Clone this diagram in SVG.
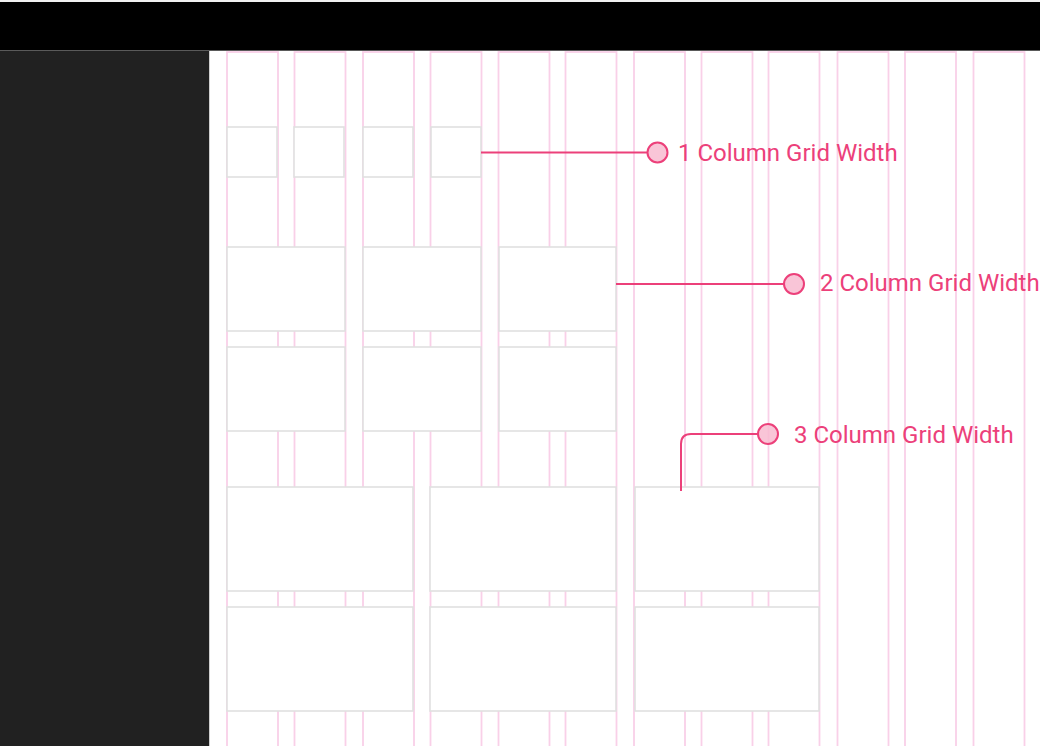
<svg xmlns="http://www.w3.org/2000/svg" width="1048" height="746" viewBox="0 0 1048 746">
<style>
.col{fill:none;stroke:#f9d0e8;stroke-width:1.8}
.box{fill:#ffffff;stroke:#e0e0e0;stroke-width:1.6}
.conn{fill:none;stroke:#ec407a;stroke-width:2}
.dot{fill:#f8bbd0;fill-opacity:0.85;stroke:#ec407a;stroke-width:2}
.lbl{font-family:Roboto,"Liberation Sans",sans-serif;font-size:24px;fill:#ec407a}
</style>
<rect x="0" y="0" width="1048" height="746" fill="#ffffff"/>
<rect x="0" y="0" width="1040" height="2" fill="#f0f0f0"/>
<rect x="0" y="2" width="1040" height="48" fill="#000000"/>
<rect x="0" y="50" width="1040" height="1" fill="#5a5a5a"/>
<rect x="0" y="51" width="209" height="695" fill="#212121"/>
<rect x="209" y="51" width="1" height="695" fill="#cfcfcf"/>
<g id="grid-columns">
<rect class="col" x="227" y="52" width="51" height="720"/>
<rect class="col" x="294.5" y="52" width="51" height="720"/>
<rect class="col" x="363" y="52" width="51" height="720"/>
<rect class="col" x="430.5" y="52" width="51" height="720"/>
<rect class="col" x="498.5" y="52" width="51" height="720"/>
<rect class="col" x="565.5" y="52" width="51" height="720"/>
<rect class="col" x="634" y="52" width="51" height="720"/>
<rect class="col" x="701.5" y="52" width="51" height="720"/>
<rect class="col" x="768.5" y="52" width="51" height="720"/>
<rect class="col" x="837.5" y="52" width="51" height="720"/>
<rect class="col" x="905" y="52" width="51" height="720"/>
<rect class="col" x="973.5" y="52" width="51" height="720"/>
</g>
<g id="box-1a"><rect class="box" x="227" y="127" width="50" height="50"/></g>
<g id="box-1b"><rect class="box" x="294" y="127" width="50" height="50"/></g>
<g id="box-1c"><rect class="box" x="363" y="127" width="50" height="50"/></g>
<g id="box-1d"><rect class="box" x="431" y="127" width="50" height="50"/></g>
<g id="box-2a"><rect class="box" x="227" y="247" width="118" height="84"/></g>
<g id="box-2b"><rect class="box" x="363" y="247" width="118" height="84"/></g>
<g id="box-2c"><rect class="box" x="499" y="247" width="117" height="84"/></g>
<g id="box-2d"><rect class="box" x="227" y="347" width="118" height="84"/></g>
<g id="box-2e"><rect class="box" x="363" y="347" width="118" height="84"/></g>
<g id="box-2f"><rect class="box" x="499" y="347" width="117" height="84"/></g>
<g id="box-3a"><rect class="box" x="227" y="487" width="186" height="104"/></g>
<g id="box-3b"><rect class="box" x="430" y="487" width="186" height="104"/></g>
<g id="box-3c"><rect class="box" x="635" y="487" width="184" height="104"/></g>
<g id="box-3d"><rect class="box" x="227" y="607" width="186" height="104"/></g>
<g id="box-3e"><rect class="box" x="430" y="607" width="186" height="104"/></g>
<g id="box-3f"><rect class="box" x="635" y="607" width="184" height="104"/></g>
<g id="connectors">
<path class="conn" d="M481 152.5 H648"/>
<path class="conn" d="M616 284 H784"/>
<path class="conn" d="M681 491 V444 Q681 434 691 434 H758"/>
</g>
<g id="label-1">
<circle class="dot" cx="657.5" cy="152.5" r="10"/>
<text class="lbl" x="678" y="161">1 Column Grid Width</text>
</g>
<g id="label-2">
<circle class="dot" cx="794" cy="284" r="10"/>
<text class="lbl" x="820" y="291">2 Column Grid Width</text>
</g>
<g id="label-3">
<circle class="dot" cx="768" cy="434" r="10"/>
<text class="lbl" x="794" y="443">3 Column Grid Width</text>
</g>
</svg>
